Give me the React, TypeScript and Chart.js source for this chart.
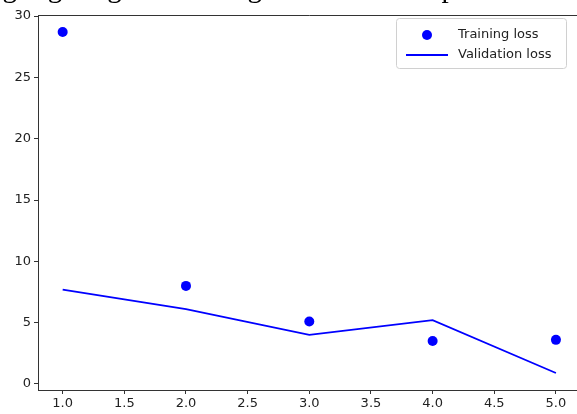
import React, { useEffect, useRef } from "react";
import { Chart, registerables } from "chart.js";

Chart.register(...registerables);

const epochs = [1, 2, 3, 4, 5];
const trainingLoss = [28.7, 8.0, 5.1, 3.5, 3.6];
const validationLoss = [7.7, 6.1, 4.0, 5.2, 0.9];
const xTicks = [1.0, 1.5, 2.0, 2.5, 3.0, 3.5, 4.0, 4.5, 5.0];
const yTicks = [0, 5, 10, 15, 20, 25, 30];
const legendLabels = ["Training loss", "Validation loss"];
const captionText = "highlighting the training and validation performance over epochs.";

const frameAndLegend = {
  id: "frameAndLegend",
  afterDraw(chart: any) {
    const { ctx, chartArea } = chart;
    ctx.save();
    ctx.strokeStyle = "#333";
    ctx.lineWidth = 1;
    ctx.beginPath();
    ctx.moveTo(chartArea.left, chartArea.top + 0.5);
    ctx.lineTo(chartArea.right, chartArea.top + 0.5);
    ctx.stroke();

    // legend
    const bx = 396.5, by = 18.5, bw = 170, bh = 50, r = 3;
    ctx.fillStyle = "rgba(255,255,255,0.8)";
    ctx.strokeStyle = "#d0d0d0";
    ctx.beginPath();
    ctx.moveTo(bx + r, by);
    ctx.lineTo(bx + bw - r, by);
    ctx.quadraticCurveTo(bx + bw, by, bx + bw, by + r);
    ctx.lineTo(bx + bw, by + bh - r);
    ctx.quadraticCurveTo(bx + bw, by + bh, bx + bw - r, by + bh);
    ctx.lineTo(bx + r, by + bh);
    ctx.quadraticCurveTo(bx, by + bh, bx, by + bh - r);
    ctx.lineTo(bx, by + r);
    ctx.quadraticCurveTo(bx, by, bx + r, by);
    ctx.closePath();
    ctx.fill();
    ctx.stroke();

    ctx.fillStyle = "#0000ff";
    ctx.beginPath();
    ctx.arc(427, 35, 5, 0, Math.PI * 2);
    ctx.fill();
    ctx.strokeStyle = "#0000ff";
    ctx.lineWidth = 1.8;
    ctx.beginPath();
    ctx.moveTo(406, 55);
    ctx.lineTo(448, 55);
    ctx.stroke();

    ctx.fillStyle = "#222";
    ctx.font = "13px 'DejaVu Sans'";
    ctx.textBaseline = "middle";
    ctx.textAlign = "left";
    ctx.fillText(legendLabels[0], 458, 35);
    ctx.fillText(legendLabels[1], 458, 55);
    ctx.restore();
  },
};

export default function App() {
  const ref = useRef<HTMLCanvasElement | null>(null);
  useEffect(() => {
    if (!ref.current) return;
    const chart = new Chart(ref.current, {
      type: "scatter",
      data: {
        datasets: [
          {
            label: legendLabels[1],
            type: "line",
            data: epochs.map((x, i) => ({ x, y: validationLoss[i] })),
            borderColor: "#0000ff",
            borderWidth: 1.8,
            pointRadius: 0,
            fill: false,
            tension: 0,
          },
          {
            label: legendLabels[0],
            data: epochs.map((x, i) => ({ x, y: trainingLoss[i] })),
            backgroundColor: "#0000ff",
            borderColor: "#0000ff",
            pointRadius: 5,
            borderWidth: 0,
          },
        ],
      },
      options: {
        responsive: false,
        animation: false,
        devicePixelRatio: 1,
        layout: { padding: { left: 0, top: 15, right: 19.4, bottom: 0 } },
        plugins: { legend: { display: false }, tooltip: { enabled: false } },
        scales: {
          x: {
            type: "linear",
            min: 0.8,
            max: 5.2,
            afterBuildTicks: (s: any) => {
              s.ticks = xTicks.map((v) => ({ value: v }));
            },
            afterFit: (s: any) => {
              s.height = 24;
            },
            grid: { display: true, drawOnChartArea: false, drawTicks: true, tickLength: 4, color: "#333" },
            border: { display: true, color: "#333", width: 1 },
            ticks: {
              color: "#222",
              font: { family: "DejaVu Sans", size: 13 },
              padding: 2,
              maxRotation: 0,
              autoSkip: false,
              callback: (v: any) => Number(v).toFixed(1),
            },
          },
          y: {
            type: "linear",
            min: -0.49,
            max: 30.09,
            afterBuildTicks: (s: any) => {
              s.ticks = yTicks.map((v) => ({ value: v }));
            },
            afterFit: (s: any) => {
              s.width = 38;
            },
            grid: { display: true, drawOnChartArea: false, drawTicks: true, tickLength: 4, color: "#333" },
            border: { display: true, color: "#333", width: 1 },
            ticks: {
              color: "#222",
              font: { family: "DejaVu Sans", size: 13 },
              padding: 3,
              autoSkip: false,
              callback: (v: any) => String(v),
            },
          },
        },
      },
      plugins: [frameAndLegend],
    });
    return () => chart.destroy();
  }, []);

  return (
    <div style={{ position: "fixed", left: 0, top: 0, width: 577, height: 414, overflow: "hidden", background: "#fff" }}>
      <canvas ref={ref} width={600} height={414} style={{ position: "absolute", left: 0, top: 0, width: 600, height: 414 }} />
      <div
        style={{
          position: "absolute",
          left: -20,
          top: -30,
          whiteSpace: "nowrap",
          fontFamily: "'Liberation Serif', serif",
          fontSize: 29,
          color: "#000",
          lineHeight: "34px",
        }}
      >
        {captionText}
      </div>
    </div>
  );
}
